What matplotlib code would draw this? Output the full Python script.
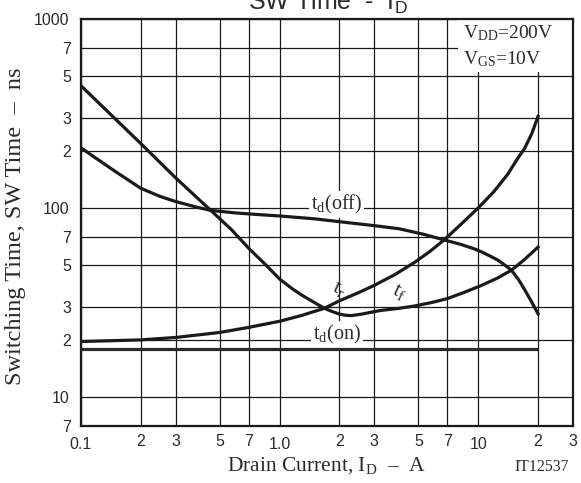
import matplotlib
matplotlib.use("Agg")
import matplotlib.pyplot as plt
from matplotlib.ticker import FixedLocator, FixedFormatter
from matplotlib.patches import Rectangle

plt.rcParams['mathtext.fontset'] = 'custom'
plt.rcParams['mathtext.rm'] = 'Liberation Serif'
plt.rcParams['mathtext.it'] = 'Liberation Serif:italic'
plt.rcParams['mathtext.sf'] = 'Liberation Sans'

# ---- data ----
td_off_x = [0.1, 0.12, 0.15, 0.2, 0.25, 0.3, 0.38, 0.45, 0.6, 0.8, 1.0, 1.5, 2.0, 3.0, 4.0,
            5.3, 6.76, 8.2, 9.5, 10.35, 11.5, 12.6, 13.7, 14.7, 16, 17.1, 18.5, 20]
td_off_y = [208, 182, 155, 127, 115, 108, 101, 97, 94, 92, 90.6, 87.5, 84.5, 80.5, 77.5,
            72.5, 67.6, 64, 60.8, 58.6, 55.5, 52.8, 49.5, 46.8, 41.5, 37, 32, 27.5]

tf_x = [0.1, 0.2, 0.3, 0.45, 0.57, 0.7, 0.85, 1.0, 1.15, 1.3, 1.5, 1.68, 1.85, 2.0, 2.15,
        2.3, 2.6, 3.2, 4.0, 4.75, 5.8, 7.0, 8.5, 10.35, 12.5, 14.7, 17, 20]
tf_y = [443, 219, 144, 97, 77, 61, 50, 42, 37.5, 34.4, 31.5, 29.4, 28.2, 27.4, 27.0,
        26.9, 27.4, 28.6, 29.4, 30.2, 31.5, 33.1, 35.7, 38.8, 42.5, 46.8, 53, 62]

tr_x = [0.1, 0.2, 0.3, 0.5, 0.7, 1.0, 1.3, 1.68, 2.0, 2.5, 3.0, 3.8, 4.76, 5.7, 6.76,
        8.2, 10, 12, 14.1, 15.7, 17.1, 18.6, 20]
tr_y = [19.6, 20, 20.6, 21.9, 23.3, 25.1, 27, 29.4, 32.2, 35.6, 38.9, 44.3, 51.3, 58.7, 67.9,
        82, 100, 122, 151, 181, 206, 247, 305]

td_on_x = [0.1, 20]
td_on_y = [17.8, 17.8]

x_major = [0.1, 1, 10]
x_major_labels = ["0.1", "1.0", "10"]
x_minor = [0.2, 0.3, 0.5, 0.7, 2, 3, 5, 7, 20, 30]
x_minor_labels = ["2", "3", "5", "7", "2", "3", "5", "7", "2", "3"]
y_major = [10, 100, 1000]
y_major_labels = ["10", "100", "1000"]
y_minor = [7, 20, 30, 50, 70, 200, 300, 500, 700]
y_minor_labels = ["7", "2", "3", "5", "7", "2", "3", "5", "7"]

W, H = 581, 483
fig = plt.figure(figsize=(W / 100, H / 100), dpi=100)
ax = fig.add_axes([81 / W, 1 - 426 / H, (573 - 81) / W, (426 - 19) / H])
ax.set_xscale('log')
ax.set_yscale('log')
ax.set_xlim(0.1, 30)
ax.set_ylim(7, 1000)

sans = 'Liberation Sans'
serif = 'Liberation Serif'

ax.xaxis.set_major_locator(FixedLocator(x_major))
ax.xaxis.set_major_formatter(FixedFormatter(x_major_labels))
ax.xaxis.set_minor_locator(FixedLocator(x_minor))
ax.xaxis.set_minor_formatter(FixedFormatter(x_minor_labels))
ax.yaxis.set_major_locator(FixedLocator(y_major))
ax.yaxis.set_major_formatter(FixedFormatter(y_major_labels))
ax.yaxis.set_minor_locator(FixedLocator(y_minor))
ax.yaxis.set_minor_formatter(FixedFormatter(y_minor_labels))

tc = '#2a2a2a'
ax.tick_params(axis='x', which='major', length=0, pad=8.0, labelsize=11.5, colors=tc)
ax.tick_params(axis='x', which='minor', length=0, pad=6.0, labelsize=11.5, colors=tc)
ax.tick_params(axis='y', which='major', length=0, pad=8.6, labelsize=11.5, colors=tc)
ax.tick_params(axis='y', which='minor', length=0, pad=7.2, labelsize=11.5, colors=tc)
for lab in ax.get_xticklabels(which='both') + ax.get_yticklabels(which='both'):
    lab.set_fontfamily(sans)

ax.grid(True, which='both', color='#1a1a1a', linewidth=0.9, zorder=0)
ax.set_axisbelow(True)
for s in ax.spines.values():
    s.set_linewidth(1.6)
    s.set_color('#1a1a1a')

# white box behind the conditions text
ax.add_patch(Rectangle((0.766, 0.870), 0.234, 0.130, transform=ax.transAxes,
                       facecolor='white', edgecolor='none', zorder=1.5))

lc = '#1a1a1a'
lw = 2.3
ax.plot(td_off_x, td_off_y, color=lc, lw=lw, zorder=3, solid_joinstyle='round')
ax.plot(tf_x, tf_y, color=lc, lw=lw, zorder=3, solid_joinstyle='round')
ax.plot(tr_x, tr_y, color=lc, lw=lw, zorder=3, solid_joinstyle='round')
ax.plot(td_on_x, td_on_y, color='#2a2a2a', lw=2.3, zorder=3, solid_capstyle='butt')

bb = dict(facecolor='white', edgecolor='none', pad=1.5)
ax.text(1.94, 104, r'$\mathrm{t_d}$(off)', family=serif, fontsize=14.5, ha='center', va='center',
        color=tc, bbox=bb, zorder=2)
ax.text(1.94, 21.3, r'$\mathrm{t_d}$(on)', family=serif, fontsize=14.5, ha='center', va='center',
        color=tc, bbox=bb, zorder=2)
ax.text(1.99, 37.3, r'$\mathrm{t_r}$', family=serif, fontsize=15.5, ha='center', va='center',
        color=tc, rotation=-25, zorder=2)
ax.text(4.0, 35.8, r'$\mathrm{t_f}$', family=serif, fontsize=15.5, ha='center', va='center',
        color=tc, rotation=-25, zorder=2)

ax.text(0.777, 0.9656, r'$\mathrm{V_{DD}}$=200V', transform=ax.transAxes, family=serif,
        fontsize=14, ha='left', va='center', color=tc, zorder=4)
ax.text(0.777, 0.902, r'$\mathrm{V_{GS}}$=10V', transform=ax.transAxes, family=serif,
        fontsize=14, ha='left', va='center', color=tc, zorder=4)

fig.text(328 / W, 1 - 9.5 / H, r'SW Time  -  $\mathsf{I_D}$', family=sans, fontsize=18,
         ha='center', va='baseline', color=tc)
fig.text(327 / W, 1 - 470.7 / H, r'Drain Current, $\mathrm{I_D}$  –  A', family=serif,
         fontsize=15.5, ha='center', va='baseline', color=tc)
fig.text(569 / W, 1 - 470.7 / H, 'IT12537', family=serif, fontsize=11.3,
         ha='right', va='baseline', color=tc)
fig.text(15.5 / W, 1 - 226 / H, 'Switching Time, SW Time  –  ns', family=serif,
         fontsize=17.5, ha='center', va='center', rotation=90, color=tc)

fig.savefig('out.png', dpi=100)
